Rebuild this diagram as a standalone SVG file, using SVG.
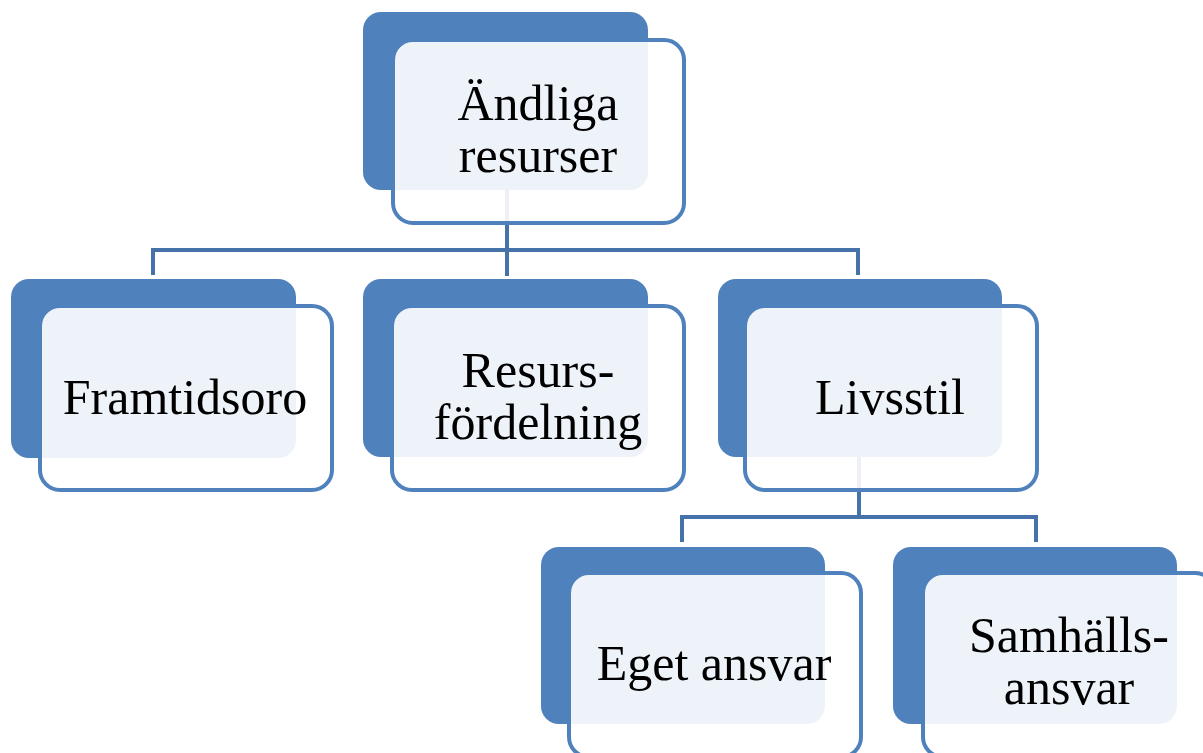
<svg xmlns="http://www.w3.org/2000/svg" width="1203" height="753" viewBox="0 0 1203 753">
<style>
.back{fill:#4F81BD;}
.front{fill:#FFFFFF;fill-opacity:0.9;stroke:#4F81BD;stroke-width:4;}
.conn{fill:none;stroke:#4572A8;stroke-width:4;}
.lbl{font-family:"Liberation Serif","Times New Roman",serif;font-size:50px;fill:#000;text-anchor:middle;}
</style>
<rect width="1203" height="753" fill="#FFFFFF"/>
<g id="connectors">
<path class="conn" d="M507,190 V250 M153,275 V250 H858 V275 M507,250 V276"/>
<path class="conn" d="M859,457 V517 M682,542 V517 H1036 V542"/>
</g>
<g id="node-andliga">
<rect class="back" x="363" y="12" width="285" height="178" rx="18"/>
<rect class="front" x="393" y="40" width="291" height="183" rx="20"/>
<text class="lbl" x="538" y="120">Ändliga</text>
<text class="lbl" x="538" y="172">resurser</text>
</g>
<g id="node-framtidsoro">
<rect class="back" x="11" y="279" width="285" height="179" rx="18"/>
<rect class="front" x="40" y="306" width="292" height="184" rx="20"/>
<text class="lbl" x="185" y="414">Framtidsoro</text>
</g>
<g id="node-resursfordelning">
<rect class="back" x="363" y="279" width="285" height="178" rx="18"/>
<rect class="front" x="392" y="306" width="292" height="184" rx="20"/>
<text class="lbl" x="538" y="387">Resurs-</text>
<text class="lbl" x="538" y="439">fördelning</text>
</g>
<g id="node-livsstil">
<rect class="back" x="718" y="279" width="284" height="178" rx="18"/>
<rect class="front" x="745" y="306" width="292" height="184" rx="20"/>
<text class="lbl" x="890" y="414">Livsstil</text>
</g>
<g id="node-eget-ansvar">
<rect class="back" x="541" y="547" width="284" height="177" rx="18"/>
<rect class="front" x="569" y="573" width="292" height="184" rx="20"/>
<text class="lbl" x="714" y="680">Eget ansvar</text>
</g>
<g id="node-samhallsansvar">
<rect class="back" x="893" y="547" width="284" height="177" rx="18"/>
<rect class="front" x="923" y="573" width="292" height="184" rx="20"/>
<text class="lbl" x="1069" y="652">Samhälls-</text>
<text class="lbl" x="1069" y="704">ansvar</text>
</g>
</svg>
